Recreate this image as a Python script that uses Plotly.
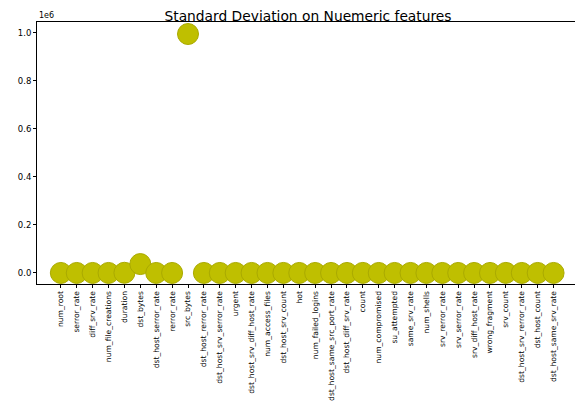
import plotly.graph_objects as go

features = [
    "num_root", "serror_rate", "diff_srv_rate", "num_file_creations", "duration",
    "dst_bytes", "dst_host_serror_rate", "rerror_rate", "src_bytes",
    "dst_host_rerror_rate", "dst_host_srv_serror_rate", "urgent",
    "dst_host_srv_diff_host_rate", "num_access_files", "dst_host_srv_count", "hot",
    "num_failed_logins", "dst_host_same_src_port_rate", "dst_host_diff_srv_rate",
    "count", "num_compromised", "su_attempted", "same_srv_rate", "num_shells",
    "srv_rerror_rate", "srv_serror_rate", "srv_diff_host_rate", "wrong_fragment",
    "srv_count", "dst_host_srv_rerror_rate", "dst_host_count", "dst_host_same_srv_rate",
]
std_values = [
    5.4, 0.38, 0.08, 0.1, 707, 37000, 0.38, 0.23, 995000, 0.23, 0.38, 0.005,
    0.04, 0.04, 105.9, 0.78, 0.015, 0.48, 0.08, 213, 1.8, 0.005, 0.39, 0.01,
    0.23, 0.38, 0.08, 0.13, 246, 0.23, 64.7, 0.41,
]
y_ticks = [0, 200000, 400000, 600000, 800000, 1000000]
y_labels = ["0.0", "0.2", "0.4", "0.6", "0.8", "1.0"]

FONT = "DejaVu Sans"

fig = go.Figure(
    go.Scatter(
        x=features,
        y=std_values,
        mode="markers",
        marker=dict(size=21, color="rgb(191,191,0)",
                    line=dict(width=1, color="rgb(170,170,0)")),
        hoverinfo="x+y",
    )
)

# the page body adds an 8px offset, so margins are shifted to compensate
fig.update_layout(
    width=583,
    height=410,
    margin=dict(l=29, r=12, t=14, b=134),
    paper_bgcolor="white",
    plot_bgcolor="white",
    showlegend=False,
    font=dict(family=FONT, color="black", size=9),
    title=dict(
        text="Standard Deviation on Nuemeric features",
        x=0.5, xref="paper", xanchor="center", y=0.992, yanchor="top",
        font=dict(family=FONT, size=13.8, color="black"),
    ),
    annotations=[
        dict(text="1e6", xref="paper", yref="paper", x=0, y=1,
             xanchor="left", yanchor="bottom", showarrow=False,
             font=dict(family=FONT, size=8, color="black"))
    ],
)

fig.update_xaxes(
    range=[-1.5, 32.6],
    tickangle=-90,
    automargin=False,
    ticks="outside", ticklen=3, tickcolor="black",
    showline=True, linecolor="black", linewidth=1, mirror=True,
    showgrid=False, zeroline=False,
    tickfont=dict(size=7.6),
)
fig.update_yaxes(
    range=[-46000, 1045000],
    tickvals=y_ticks, ticktext=y_labels,
    automargin=False,
    ticks="outside", ticklen=3, tickcolor="black",
    showline=True, linecolor="black", linewidth=1, mirror=True,
    showgrid=False, zeroline=False,
    tickfont=dict(size=8.5),
)

fig.write_html("out.html")
